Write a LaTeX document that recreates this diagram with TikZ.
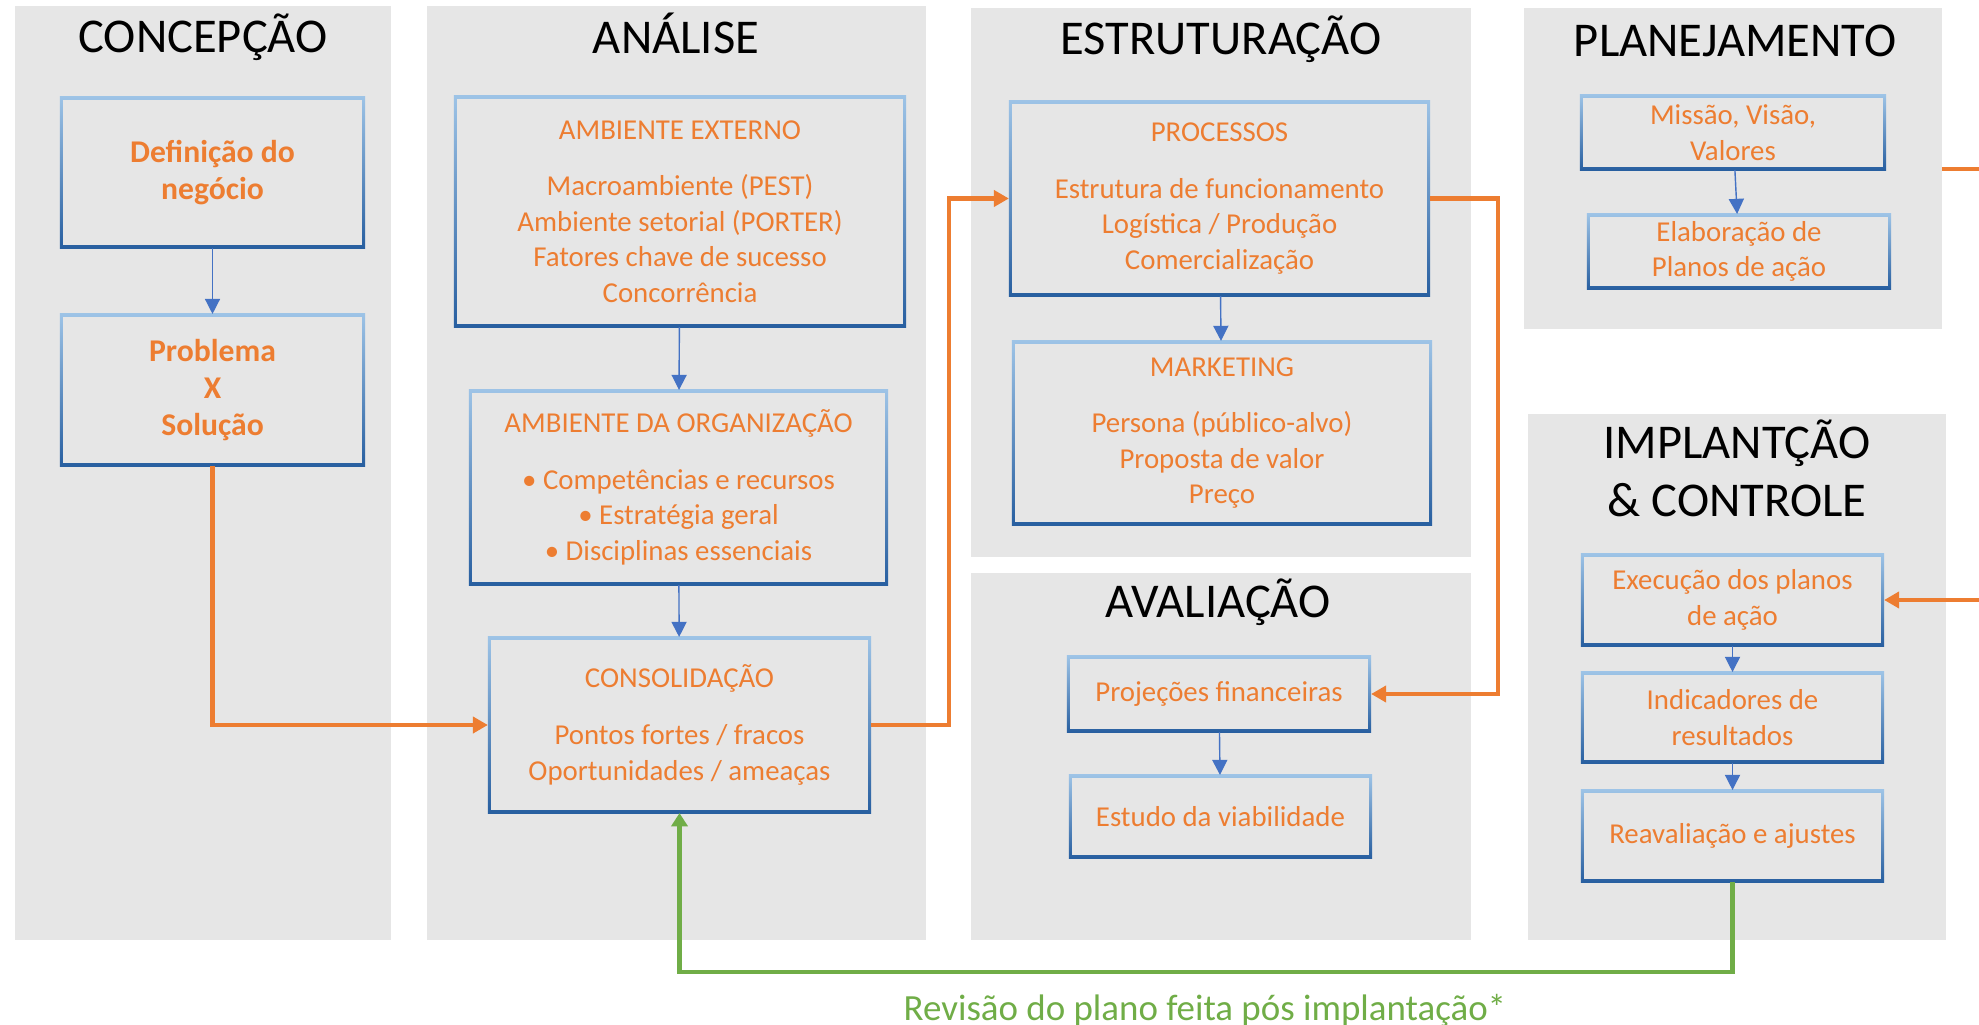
\documentclass[tikz,border=0pt]{standalone}
\usepackage{fontspec}
\setmainfont{Carlito}
\usetikzlibrary{arrows.meta}
\definecolor{panelgray}{RGB}{230,230,230}
\definecolor{boxtop}{RGB}{157,195,230}
\definecolor{boxbot}{RGB}{40,95,160}
\definecolor{txtorange}{RGB}{237,125,49}
\definecolor{arrblue}{RGB}{68,114,196}
\definecolor{revgreen}{RGB}{112,173,71}
\tikzset{
  panel/.style={fill=panelgray},
  stage/.style={anchor=base, align=center, font=\fontsize{13.8}{16.5}\selectfont},
  box/.style={top color=boxtop, bottom color=boxbot, inner sep=0pt, outer sep=0pt,
    align=center, text=txtorange, font=\fontsize{8.2}{10.1}\selectfont,
    path picture={\fill[panelgray] ([shift={(3,3)}]path picture bounding box.north west)
      rectangle ([shift={(-3,-3)}]path picture bounding box.south east);}},
  keybox/.style={box, font=\bfseries\fontsize{9}{10.6}\selectfont},
  flow/.style={draw=arrblue, line width=0.4pt, -{Triangle[length=4.3pt,width=4.3pt]}},
  mainflow/.style={draw=txtorange, line width=1.4pt, -{Triangle[length=4.3pt,width=4.6pt]}},
  review/.style={draw=revgreen, line width=1.2pt, -{Triangle[length=3.8pt,width=4.6pt]}}
}
\begin{document}
\begin{tikzpicture}[x=0.01cm,y=-0.01cm,line join=miter]
	\useasboundingbox (0,0) rectangle (1979,1025);
	\clip (0,0) rectangle (1979,1025);
	% panels
	\fill[panel] (15,6) rectangle (391,940);
	\fill[panel] (427,6) rectangle (926,940);
	\fill[panel] (971,8) rectangle (1471,557);
	\fill[panel] (971,573) rectangle (1471,940);
	\fill[panel] (1524,8) rectangle (1942,329);
	\fill[panel] (1528,414) rectangle (1946,940);
	% titles
	\node[stage] (tconc) at (203,53) {CONCEPÇÃO};
	\node[stage] (tanal) at (676,54) {ANÁLISE};
	\node[stage] (testr) at (1221,55) {ESTRUTURAÇÃO};
	\node[stage] (taval) at (1218,617) {AVALIAÇÃO};
	\node[stage] (tplan) at (1735,57) {PLANEJAMENTO};
	\node[stage] (timpl) at (1737,517) {IMPLANTÇÃO\\\& CONTROLE};
	% concepcao
	\node[keybox, minimum width=3.05cm, minimum height=1.51cm] (def) at (212.5,172.5) {Definição do\\negócio};
	\node[keybox, minimum width=3.05cm, minimum height=1.52cm] (prob) at (212.5,390) {Problema\\X\\Solução};
	% analise
	\node[box, minimum width=4.52cm, minimum height=2.31cm] (ambext) at (680,211.5)
		{AMBIENTE EXTERNO\\[6pt]Macroambiente (PEST)\\Ambiente setorial (PORTER)\\Fatores chave de sucesso\\Concorrência};
	\node[box, minimum width=4.19cm, minimum height=1.95cm] (amborg) at (678.5,487.5)
		{AMBIENTE DA ORGANIZAÇÃO\\[6pt]• Competências e recursos\\• Estratégia geral\\• Disciplinas essenciais};
	\node[box, minimum width=3.83cm, minimum height=1.76cm] (consol) at (679.5,725)
		{CONSOLIDAÇÃO\\[6pt]Pontos fortes / fracos\\Oportunidades / ameaças};
	% estruturacao
	\node[box, minimum width=4.21cm, minimum height=1.95cm] (proc) at (1219.5,198.5)
		{PROCESSOS\\[6pt]Estrutura de funcionamento\\Logística / Produção\\Comercialização};
	\node[box, minimum width=4.20cm, minimum height=1.84cm] (mkt) at (1222,433)
		{MARKETING\\[6pt]Persona (público-alvo)\\Proposta de valor\\Preço};
	% avaliacao
	\node[box, minimum width=3.04cm, minimum height=0.76cm] (proj) at (1219,694) {Projeções financeiras};
	\node[box, minimum width=3.03cm, minimum height=0.83cm] (estudo) at (1220.5,816.5) {Estudo da viabilidade};
	% planejamento
	\node[box, minimum width=3.06cm, minimum height=0.75cm] (missao) at (1733,132.5) {Missão, Visão,\\Valores};
	\node[box, minimum width=3.04cm, minimum height=0.75cm] (elab) at (1739,251.5) {Elaboração de\\Planos de ação};
	% implantacao
	\node[box, minimum width=3.03cm, minimum height=0.92cm] (exec) at (1732.5,600) {Execução dos planos\\de ação};
	\node[box, minimum width=3.03cm, minimum height=0.91cm] (ind) at (1732.5,717.5) {Indicadores de\\resultados};
	\node[box, minimum width=3.03cm, minimum height=0.92cm] (reav) at (1732.5,836) {Reavaliação e ajustes};
	% blue arrows
	\draw[flow] (def) -- (prob);
	\draw[flow] (ambext) -- (amborg);
	\draw[flow] (amborg) -- (consol);
	\draw[flow] (proc) -- (mkt);
	\draw[flow] (proj) -- (estudo);
	\draw[flow] (missao) -- (elab);
	\draw[flow] (exec) -- (ind);
	\draw[flow] (ind) -- (reav);
	% orange flow
	\coordinate (bendA) at (949,0);
	\coordinate (bendB) at (1498,0);
	\coordinate (planout) at (1942,169);
	\coordinate (bendC) at (2010,0);
	\draw[mainflow] (prob.south) |- (consol.west);
	\draw[mainflow] (consol.east) -- (consol.east -| bendA) -- (proc.west -| bendA) -- (proc.west);
	\draw[mainflow] (proc.east) -- (proc.east -| bendB) -- (proj.east -| bendB) -- (proj.east);
	\draw[mainflow] (planout) -- (planout -| bendC) -- (exec.east -| bendC) -- (exec.east);
	% review loop
	\coordinate (bendD) at (0,972);
	\draw[review] (reav.south) -- (reav.south |- bendD) -- (consol.south |- bendD) -- (consol.south);
	\node[anchor=base, text=revgreen, font=\fontsize{10.5}{12.6}\selectfont] (revnote) at (1205,1020)
		{Revisão do plano feita pós implantação*};
\end{tikzpicture}
\end{document}
